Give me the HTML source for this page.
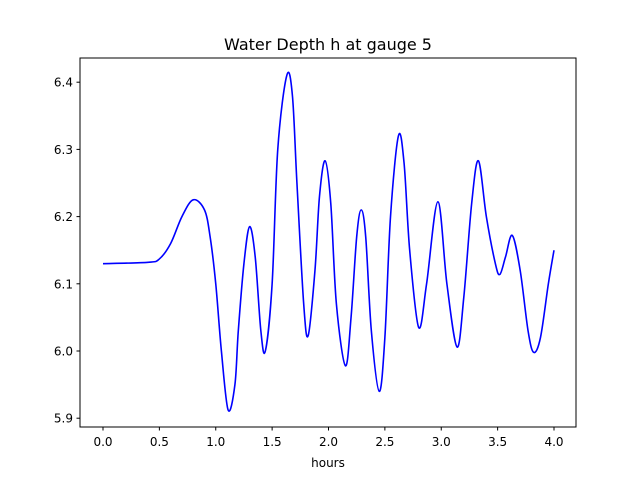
<!DOCTYPE html>
<html><head><meta charset="utf-8"><style>
body{margin:0;background:#fff}
svg text{font-family:"DejaVu Sans","Liberation Sans",sans-serif;fill:#000}
</style></head><body>
<svg width="640" height="480">
<rect width="640" height="480" fill="#fff"/>
<text x="328" y="50" font-size="16" text-anchor="middle">Water Depth h at gauge 5</text>
<g id="xt"></g>
<g id="yt"></g>
<path id="line" fill="none" stroke="#0000ff" stroke-width="1.6"/>
<rect x="80" y="58" width="496" height="369" fill="none" stroke="#000" stroke-width="1"/>
<text x="328" y="467" font-size="12" text-anchor="middle">hours</text>
</svg>
<script>
const times=[0,0.4,0.5,0.6,0.7,0.8,0.9,0.95,1.0,1.05,1.11,1.17,1.2,1.25,1.3,1.35,1.4,1.44,1.5,1.55,1.63,1.68,1.72,1.78,1.82,1.88,1.92,1.97,2.02,2.07,2.15,2.2,2.25,2.29,2.33,2.38,2.45,2.5,2.55,2.62,2.67,2.72,2.8,2.87,2.97,3.05,3.14,3.2,3.27,3.33,3.4,3.48,3.52,3.57,3.63,3.7,3.77,3.82,3.88,3.95,4.0];
const depths=[6.13,6.132,6.137,6.16,6.2,6.225,6.21,6.17,6.1,6.0,5.912,5.95,6.03,6.13,6.185,6.14,6.03,6.0,6.1,6.3,6.41,6.38,6.25,6.07,6.023,6.12,6.23,6.283,6.22,6.07,5.978,6.05,6.17,6.21,6.17,6.03,5.94,6.02,6.2,6.32,6.28,6.15,6.035,6.1,6.222,6.1,6.006,6.08,6.22,6.283,6.2,6.13,6.114,6.14,6.172,6.12,6.03,5.998,6.02,6.1,6.15];
const xTicks=[0,0.5,1,1.5,2,2.5,3,3.5,4];
const yTicks=[5.9,6.0,6.1,6.2,6.3,6.4];
const X=t=>103+t*112.75, Y=v=>351-(v-6.0)*672;
const NS='http://www.w3.org/2000/svg';
const xt=document.getElementById('xt'), yt=document.getElementById('yt');
xTicks.forEach(t=>{
 const l=document.createElementNS(NS,'line');
 
 
 l.setAttribute('x1',X(t));l.setAttribute('x2',X(t));l.setAttribute('y1',427);l.setAttribute('y2',430.5);l.setAttribute('stroke','#000');
 xt.appendChild(l);
 const s=document.createElementNS(NS,'text');
 
 
 s.setAttribute('x',X(t));s.setAttribute('y',446);s.setAttribute('font-size','12');s.setAttribute('text-anchor','middle');
 s.textContent=t.toFixed(1);xt.appendChild(s);
});
yTicks.forEach(v=>{
 const l=document.createElementNS(NS,'line');
 
 
 l.setAttribute('x1',76.5);l.setAttribute('x2',80);l.setAttribute('y1',Y(v));l.setAttribute('y2',Y(v));l.setAttribute('stroke','#000');
 yt.appendChild(l);
 const s=document.createElementNS(NS,'text');
 
 
 s.setAttribute('x',73);s.setAttribute('y',Y(v)+4.5);s.setAttribute('font-size','12');s.setAttribute('text-anchor','end');
 s.textContent=v.toFixed(1);yt.appendChild(s);
});
const P=times.map((t,i)=>[X(t),Y(depths[i])]);
let d='M'+P[0][0]+','+P[0][1];
for(let i=0;i<P.length-1;i++){
 const p0=P[Math.max(i-1,0)],p1=P[i],p2=P[i+1],p3=P[Math.min(i+2,P.length-1)];
 const c1=[p1[0]+(p2[0]-p0[0])/6,p1[1]+(p2[1]-p0[1])/6];
 const c2=[p2[0]-(p3[0]-p1[0])/6,p2[1]-(p3[1]-p1[1])/6];
 d+=` C${c1[0]},${c1[1]} ${c2[0]},${c2[1]} ${p2[0]},${p2[1]}`;
}
document.getElementById('line').setAttribute('d',d);
</script>
</body></html>
